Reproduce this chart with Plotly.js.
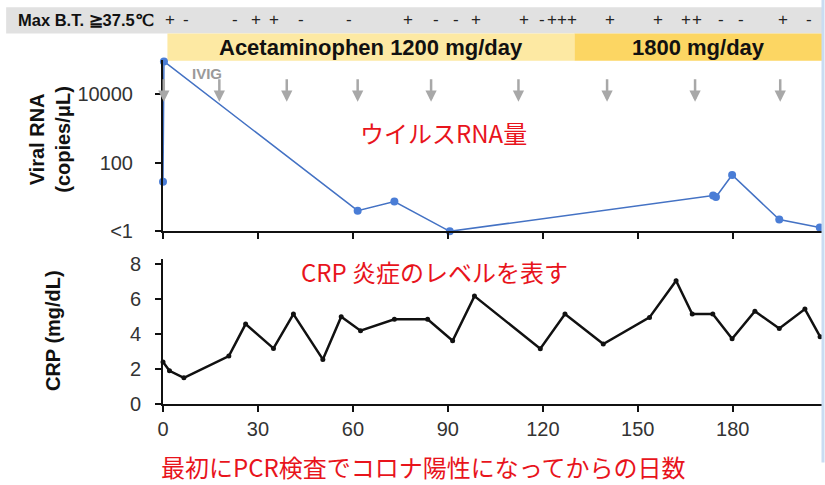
<!DOCTYPE html>
<html>
<head>
<meta charset="utf-8">
<script src="https://cdn.plot.ly/plotly-3.0.1.min.js"></script>
<style>
  html, body { margin: 0; padding: 0; background: #fff; }
  #chart { width: 825px; height: 485px; }
</style>
</head>
<body>
<div id="chart"></div>
<script>
// viral RNA (copies/uL), log scale
const rnaDays = [0, 0.3, 61.5, 73.1, 90.6, 173.8, 174.7, 179.8, 194.7, 207.5];
const rnaValues = [28, 91000, 4, 7.4, 1, 11.1, 10, 44, 2.2, 1.3];

// CRP (mg/dL)
const crpDays = [0, 2.05, 6.6, 20.8, 26.1, 34.9, 41.2, 50.5, 56.3, 62.4, 73.1, 83.6, 91.5, 98.4,
                 119.2, 127, 139.1, 153.7, 162.1, 167.2, 173.7, 179.8, 187, 194.7, 202.8, 207.6];
const crpValues = [2.4, 1.9, 1.5, 2.74, 4.57, 3.18, 5.14, 2.55, 4.99, 4.19, 4.84, 4.84, 3.62, 6.17,
                   3.16, 5.14, 3.43, 4.95, 7.05, 5.14, 5.14, 3.73, 5.3, 4.32, 5.43, 3.85];

// IVIG doses
const ivigDays = [0.25, 17.8, 39.1, 61.5, 84.7, 112.3, 140.3, 168.1, 195];

// max body temperature >= 37.5C
const btDays = [2.1, 7.4, 22.9, 29.5, 35.2, 43.7, 58.9, 77.5, 86.4, 92.7, 99, 114.2, 119.6, 123,
                126.2, 129.3, 141.3, 156.5, 165.3, 168.8, 176.4, 182.7, 196, 204.2];
const btSigns = ['+', '-', '-', '+', '+', '-', '-', '+', '-', '-', '+', '+', '-', '+',
                 '+', '+', '+', '+', '+', '+', '-', '-', '+', '-'];

// acetaminophen dosing periods
const doseStart = [1.4, 130];
const doseEnd = [130, 208.2];
const doseLabels = ['Acetaminophen 1200 mg/day', '1800 mg/day'];
const doseColors = ['#fde9a3', '#fcd663'];

const xTicks = [0, 30, 60, 90, 120, 150, 180];
const rnaTickVals = [1, 100, 10000];
const rnaTickText = ['<1', '100', '10000'];

const FONT = 'Liberation Sans, Arial, sans-serif';
const JP = 'Noto Sans CJK JP, sans-serif';
const RED = '#e8141c';

const rnaTrace = {
    x: rnaDays,
    y: rnaValues,
    xaxis: 'x',
    yaxis: 'y',
    mode: 'lines+markers',
    line: {color: '#4472c4', width: 1.5},
    marker: {color: '#4a7dd6', size: 8},
    cliponaxis: false,
    hoverinfo: 'x+y',
};

const crpTrace = {
    x: crpDays,
    y: crpValues,
    xaxis: 'x2',
    yaxis: 'y2',
    mode: 'lines+markers',
    line: {color: '#111111', width: 2.5},
    marker: {color: '#111111', size: 5},
    cliponaxis: false,
    hoverinfo: 'x+y',
};

const axisBase = {
    showline: true,
    linecolor: '#111111',
    linewidth: 2,
    ticks: 'outside',
    ticklen: 6,
    tickwidth: 2,
    tickcolor: '#111111',
    showgrid: false,
    zeroline: false,
    tickfont: {family: FONT, size: 20, color: '#333333'},
};

const shapes = [];
const annotations = [];

// grey temperature strip
shapes.push({
    type: 'rect', xref: 'paper', yref: 'paper',
    x0: -0.238, x1: 1.0, y0: 1.077, y1: 1.153,
    fillcolor: '#e1e1e1', line: {width: 0}, layer: 'below',
});
annotations.push({
    text: '<b>Max B.T. ≧37.5℃</b>', xref: 'paper', yref: 'paper',
    x: -0.2225, y: 1.115, xanchor: 'left', yanchor: 'middle', showarrow: false,
    font: {family: FONT, size: 16.5, color: '#111111'},
});
btDays.forEach((d, i) => {
    annotations.push({
        text: btSigns[i], xref: 'x', yref: 'paper', x: d, y: 1.118,
        xanchor: 'center', yanchor: 'middle', showarrow: false,
        font: {family: FONT, size: 17, color: '#222222'},
    });
});

// dosing bands
doseStart.forEach((s, i) => {
    shapes.push({
        type: 'rect', xref: 'x', yref: 'paper',
        x0: s, x1: doseEnd[i], y0: 0.998, y1: 1.077,
        fillcolor: doseColors[i], line: {width: 0}, layer: 'below',
    });
    annotations.push({
        text: '<b>' + doseLabels[i] + '</b>', xref: 'x', yref: 'paper',
        x: (s + doseEnd[i]) / 2, y: 1.037, xanchor: 'center', yanchor: 'middle',
        showarrow: false, font: {family: FONT, size: 22, color: '#111111'},
    });
});

// IVIG arrows (log axis -> y in log10 units)
ivigDays.forEach((d) => {
    annotations.push({
        text: '', xref: 'x', yref: 'y', x: d, y: 3.78,
        showarrow: true, ax: 0, ay: -24, arrowhead: 2, arrowsize: 0.9,
        arrowwidth: 2.5, arrowcolor: '#a8a8a8',
    });
});
annotations.push({
    text: '<b>IVIG</b>', xref: 'x', yref: 'paper', x: 14, y: 0.962,
    xanchor: 'center', yanchor: 'middle', showarrow: false,
    font: {family: FONT, size: 15, color: '#9a9a9a'},
});

// axis titles
annotations.push({
    text: '<b>Viral RNA</b><br><b>(copies/μL)</b>', xref: 'paper', yref: 'paper',
    x: -0.171, y: 0.769, textangle: -90, xanchor: 'center', yanchor: 'middle',
    showarrow: false, font: {family: FONT, size: 20, color: '#111111'},
});
annotations.push({
    text: '<b>CRP (mg/dL)</b>', xref: 'paper', yref: 'paper',
    x: -0.168, y: 0.213, textangle: -90, xanchor: 'center', yanchor: 'middle',
    showarrow: false, font: {family: FONT, size: 20, color: '#111111'},
});

// red Japanese notes
annotations.push({
    text: 'ウイルスRNA量', xref: 'paper', yref: 'paper', x: 0.426, y: 0.789,
    xanchor: 'center', yanchor: 'middle', showarrow: false,
    font: {family: JP, size: 24, color: RED},
});
annotations.push({
    text: 'CRP 炎症のレベルを表す', xref: 'paper', yref: 'paper', x: 0.412, y: 0.384,
    xanchor: 'center', yanchor: 'middle', showarrow: false,
    font: {family: JP, size: 24, color: RED},
});
annotations.push({
    text: '最初にPCR検査でコロナ陽性になってからの日数', xref: 'paper', yref: 'paper',
    x: 0.3956, y: -0.1805, xanchor: 'center', yanchor: 'middle', showarrow: false,
    font: {family: JP, size: 24, color: RED},
});

// light blue window edge
shapes.push({
    type: 'line', xref: 'paper', yref: 'paper',
    x0: 1.0015, x1: 1.0015, y0: 1.18, y1: -0.17,
    line: {color: '#c9dcf2', width: 3},
});

const layout = {
    width: 825,
    height: 485,
    margin: {l: 163, r: 3, t: 60, b: 81},
    paper_bgcolor: '#ffffff',
    plot_bgcolor: '#ffffff',
    showlegend: false,
    xaxis: {
        ...axisBase,
        domain: [0, 1],
        anchor: 'y',
        range: [0, 208.2],
        tickvals: xTicks,
        showticklabels: false,
    },
    yaxis: {
        ...axisBase,
        type: 'log',
        domain: [0.502, 1],
        anchor: 'x',
        range: [0, 5],
        tickvals: rnaTickVals,
        ticktext: rnaTickText,
        ticklabelstandoff: 18,
    },
    xaxis2: {
        ...axisBase,
        domain: [0, 1],
        anchor: 'y2',
        range: [0, 208.2],
        tickvals: xTicks,
    },
    yaxis2: {
        ...axisBase,
        domain: [0, 0.422],
        anchor: 'x2',
        range: [0, 8.3],
        tickvals: [0, 2, 4, 6, 8],
        ticklabelstandoff: 10,
    },
    shapes: shapes,
    annotations: annotations,
};

Plotly.newPlot('chart', [rnaTrace, crpTrace], layout, {displayModeBar: false, staticPlot: true});
</script>
</body>
</html>
